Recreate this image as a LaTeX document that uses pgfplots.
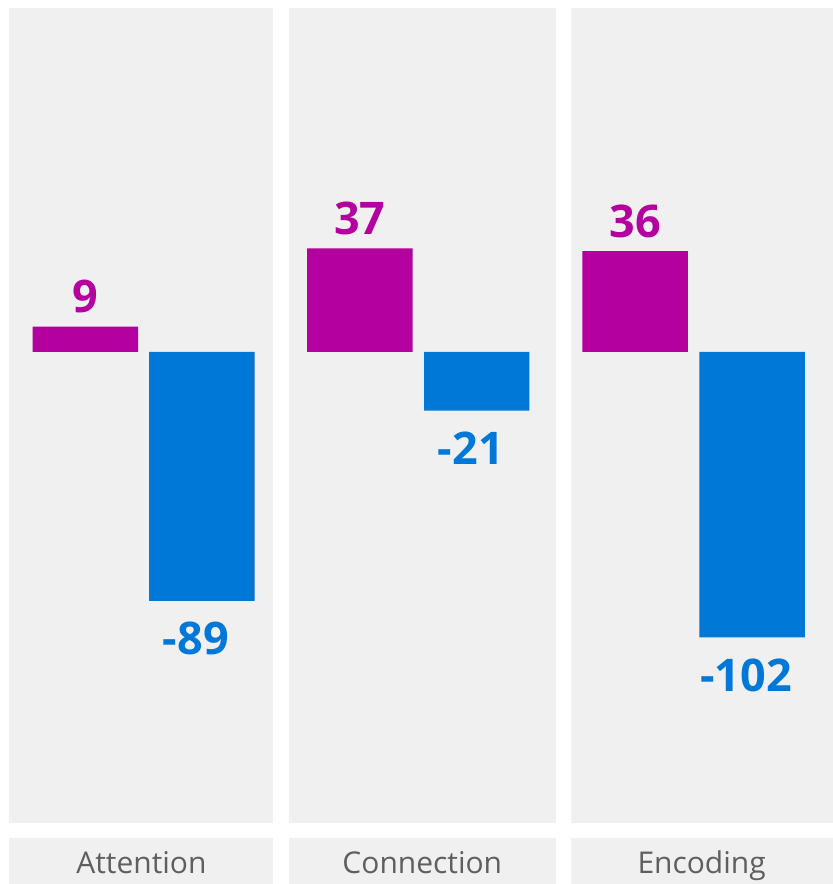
\documentclass[border=0pt]{standalone}
\usepackage{fontspec}
\setmainfont{Open Sans}
\usepackage{pgfplots}
\pgfplotsset{compat=1.18}
\definecolor{mag}{HTML}{B4009E}
\definecolor{msblue}{HTML}{0078D7}
\definecolor{panel}{HTML}{F0F0F0}
\definecolor{lbl}{HTML}{5F5F5F}
\begin{document}
\begin{tikzpicture}
\begin{axis}[
  at={(0,0)}, anchor=south west,
  width=833pt, height=884pt, scale only axis,
  xmin=0, xmax=833, ymin=-190, ymax=125.71,
  hide axis, clip=false,
]
\path (axis cs:0,-190) rectangle (axis cs:833,125.71);
% panels
\fill[panel] (axis cs:9,-168.2) rectangle (axis cs:273,122.86);
\fill[panel] (axis cs:289,-168.2) rectangle (axis cs:556,122.86);
\fill[panel] (axis cs:571,-168.2) rectangle (axis cs:833,122.86);
% label boxes
\fill[panel] (axis cs:9,-190) rectangle (axis cs:273,-173.9);
\fill[panel] (axis cs:289,-190) rectangle (axis cs:556,-173.9);
\fill[panel] (axis cs:571,-190) rectangle (axis cs:833,-173.9);
\node[text=lbl, font=\fontsize{30}{32}\selectfont, anchor=base] at (axis cs:141.5,-186.4) {Attention};
\node[text=lbl, font=\fontsize{30}{32}\selectfont, anchor=base] at (axis cs:422.5,-186.4) {Connection};
\node[text=lbl, font=\fontsize{30}{32}\selectfont, anchor=base] at (axis cs:702,-186.4) {Encoding};
\addplot[ybar, bar shift=0pt, bar width=105.5, fill=mag, draw=none,
  point meta=explicit symbolic,
  nodes near coords,
  nodes near coords style={text=mag, anchor=south, yshift=10pt, font=\fontsize{45}{46}\selectfont\bfseries}]
  coordinates {(85.5,9) [9] (360,37) [37] (635.5,36) [36]};
\addplot[ybar, bar shift=0pt, bar width=105.5, fill=msblue, draw=none,
  point meta=explicit symbolic,
  nodes near coords,
  nodes near coords style={text=msblue, anchor=north, font=\fontsize{45}{46}\selectfont\bfseries, xshift=-6pt, yshift=-18pt}]
  coordinates {(202,-89) [-89] (477,-21) [-21] (752.5,-102) [-102]};
\end{axis}
\end{tikzpicture}
\end{document}
